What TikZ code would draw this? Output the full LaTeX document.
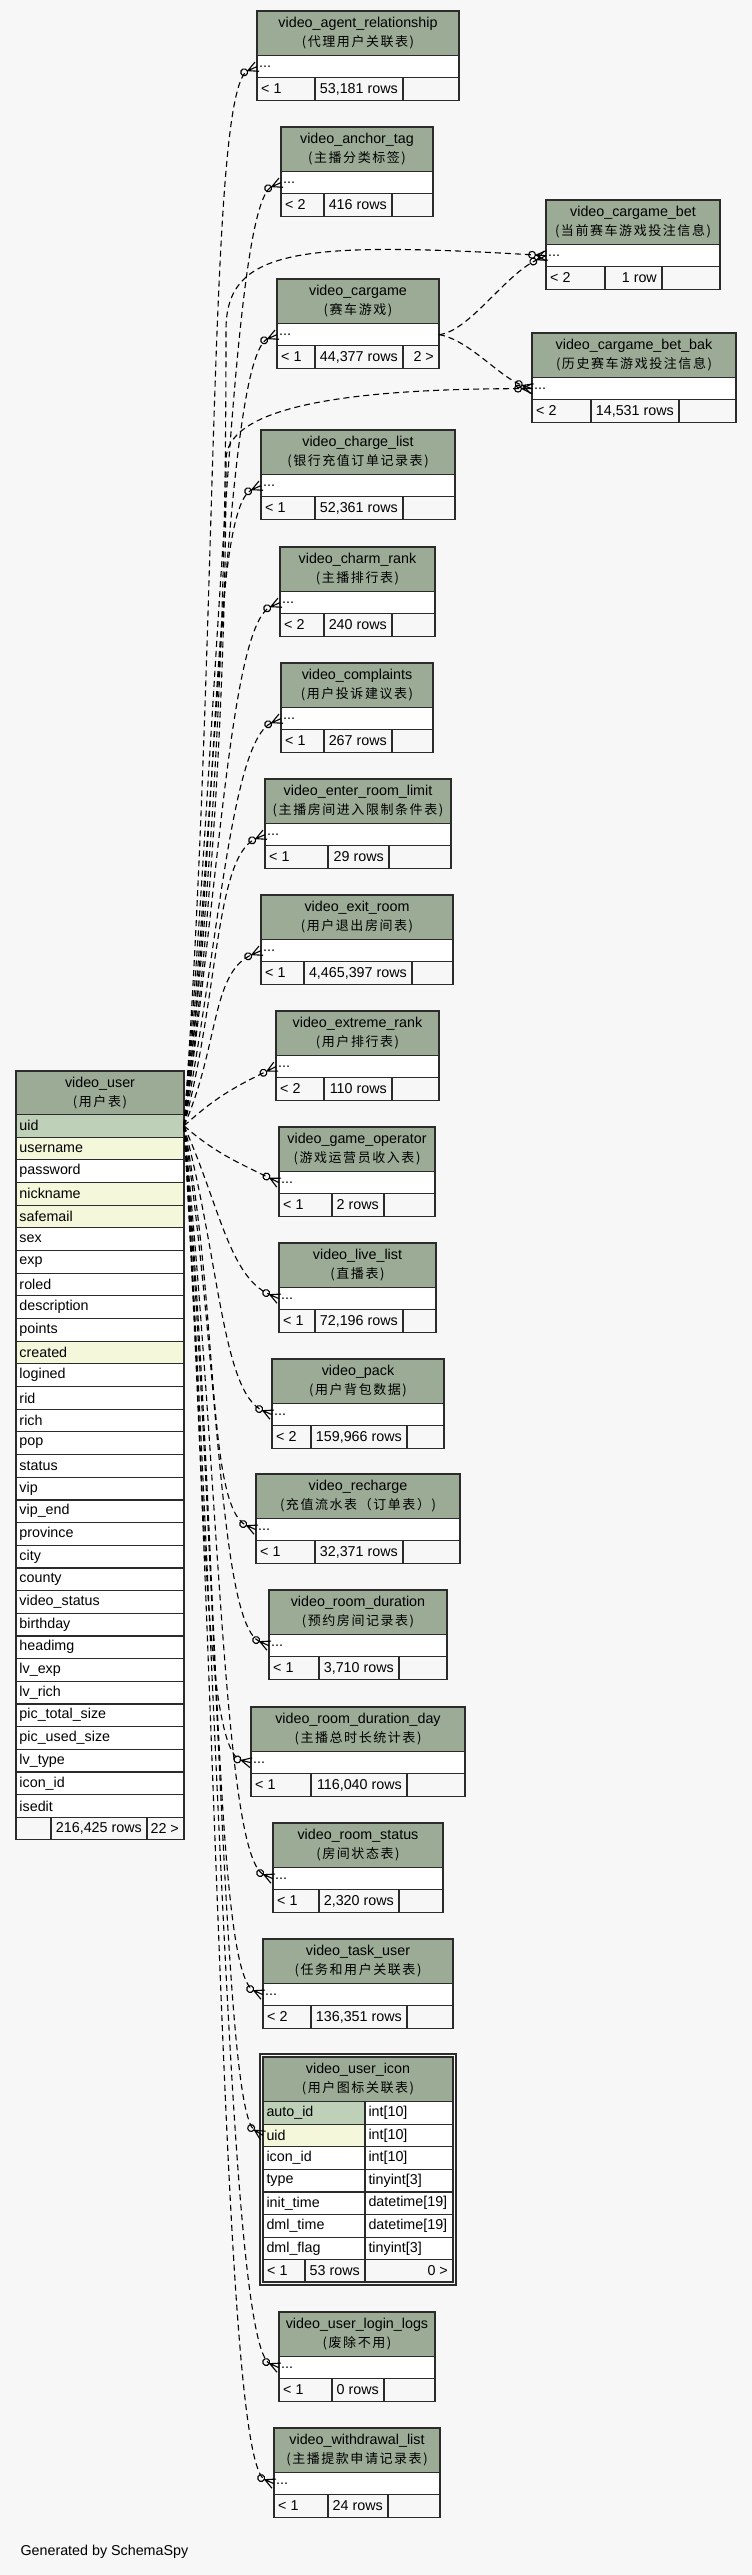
\documentclass[tikz,border=0pt]{standalone}
\usepackage{fontspec}
\setmainfont{Liberation Sans}
\newfontfamily\cmtfont[LetterSpace=12]{Noto Sans CJK SC}
\usetikzlibrary{positioning,arrows.meta}

\definecolor{bgclr}{HTML}{F7F7F7}
\definecolor{hdrclr}{HTML}{9BAB96}
\definecolor{pkclr}{HTML}{BED1B8}
\definecolor{idxclr}{HTML}{F4F7DA}
\definecolor{footclr}{HTML}{F7F7F7}
\definecolor{lineclr}{HTML}{2B2B2B}

\newcommand\rowfont{\fontsize{14.3}{18.5}\selectfont}
\newcommand\cmt[1]{{\cmtfont\fontsize{13}{18.5}\selectfont(#1)}}

% crow's foot tip
\pgfdeclarearrow{
  name = Crow,
  parameters = {\the\pgfarrowlength,\the\pgfarrowwidth},
  setup code = {
    \pgfarrowssettipend{0pt}
    \pgfarrowssetbackend{-\pgfarrowlength}
    \pgfarrowssetlineend{-\pgfarrowlength}
    \pgfarrowssetvisualbackend{-\pgfarrowlength}
    \pgfarrowshullpoint{0pt}{.5\pgfarrowwidth}
    \pgfarrowshullpoint{0pt}{-.5\pgfarrowwidth}
    \pgfarrowshullpoint{-\pgfarrowlength}{0pt}
    \pgfarrowssavethe\pgfarrowlength
    \pgfarrowssavethe\pgfarrowwidth
  },
  drawing code = {
    \pgfsetdash{}{0pt}
    \pgfpathmoveto{\pgfpoint{0pt}{.5\pgfarrowwidth}}
    \pgfpathlineto{\pgfpoint{-\pgfarrowlength}{0pt}}
    \pgfpathlineto{\pgfpoint{0pt}{-.5\pgfarrowwidth}}
    \pgfpathmoveto{\pgfpoint{-\pgfarrowlength}{0pt}}
    \pgfpathlineto{\pgfpoint{0pt}{0pt}}
    \pgfusepathqstroke
  },
  defaults = {length=10pt, width=10pt}
}

\tikzset{
  tbl/.style={draw=lineclr, line width=1.2pt, outer sep=0pt, inner sep=0pt, anchor=north west},
  hdr/.style={tbl, fill=hdrclr, minimum height=44.5pt, align=center},
  dots/.style={tbl, fill=white, minimum height=22.3pt},
  foot/.style={tbl, fill=footclr, minimum height=22.3pt},
  row/.style={tbl, minimum height=22.67pt, inner xsep=3.5pt, align=left},
  cell/.style={draw=lineclr, line width=1.2pt},
  txt/.style={inner sep=0pt},
  rel/.style={draw=black, line width=1.1pt, dash pattern=on 6pt off 4pt,
    -{Circle[open,length=8pt] Crow[length=10pt,width=10pt]}}
}

\begin{document}
\begin{tikzpicture}[x=1pt,y=-1pt,font=\rowfont]
    \fill[bgclr] (0,0) rectangle (752,2575);
    \useasboundingbox (0,0) rectangle (752,2575);
    % video_user
    \node[hdr, minimum width=168pt] (user) at (16,1071) {video\_user\\\cmt{用户表}};
    \foreach \nm/\col/\clr [count=\i from 0] in {uid/uid/pkclr, username/username/idxclr,
        password/password/white, nickname/nickname/idxclr, safemail/safemail/idxclr,
        sex/sex/white, exp/exp/white, roled/roled/white, description/description/white,
        points/points/white, created/created/idxclr, logined/logined/white, rid/rid/white,
        rich/rich/white, pop/pop/white, status/status/white, vip/vip/white,
        vipend/vip\_end/white, province/province/white, city/city/white, county/county/white,
        videostatus/video\_status/white, birthday/birthday/white, headimg/headimg/white,
        lvexp/lv\_exp/white, lvrich/lv\_rich/white, pictotal/pic\_total\_size/white,
        picused/pic\_used\_size/white, lvtype/lv\_type/white, iconid/icon\_id/white,
        isedit/isedit/white}
        \node[row, fill=\clr, text width=161pt] (user-\nm) at (16,{1114.5+\i*22.67}) {\col};
    \node[foot, minimum width=168pt] (user-foot) at (16,1817.3) {};
    \draw[cell] ([xshift=35pt]user-foot.north west) -- ([xshift=35pt]user-foot.south west);
    \draw[cell] ([xshift=131pt]user-foot.north west) -- ([xshift=131pt]user-foot.south west);
    \node[txt, anchor=east] (user-rows) at ([xshift=126pt]user-foot.west) {216,425 rows};
    \node[txt, anchor=east] (user-rgt) at ([xshift=-5pt]user-foot.east) {22 >};
    % tables with hidden columns
    \foreach \id/\xa/\ya/\xb/\da/\db/\tname/\tcmt/\lft/\rows/\rgt in {
        agent/257/11/459/315/403/agent\_relationship/代理用户关联表/{< 1}/{53,181 rows}/{},
        anchor/281/127/433/324/392/anchor\_tag/主播分类标签/{< 2}/{416 rows}/{},
        bet/546/200/720/605/662/cargame\_bet/当前赛车游戏投注信息/{< 2}/{1 row}/{},
        cargame/277/279/439/315/403/cargame/赛车游戏/{< 1}/{44,377 rows}/{2 >},
        betbak/532/333/736/591/679/cargame\_bet\_bak/历史赛车游戏投注信息/{< 2}/{14,531 rows}/{},
        charge/261/430/455/315/403/charge\_list/银行充值订单记录表/{< 1}/{52,361 rows}/{},
        charm/280/547/435/324/392/charm\_rank/主播排行表/{< 2}/{240 rows}/{},
        complaints/281/663/433/324/392/complaints/用户投诉建议表/{< 1}/{267 rows}/{},
        enter/265/779/451/328/389/enter\_room\_limit/主播房间进入限制条件表/{< 1}/{29 rows}/{},
        exit/261/895/453/304/412/exit\_room/用户退出房间表/{< 1}/{4,465,397 rows}/{},
        extreme/276/1011/439/324/392/extreme\_rank/用户排行表/{< 2}/{110 rows}/{},
        operator/279/1127/435/332/384/game\_operator/游戏运营员收入表/{< 1}/{2 rows}/{},
        live/279/1243/436/315/403/live\_list/直播表/{< 1}/{72,196 rows}/{},
        pack/272/1359/444/311/407/pack/用户背包数据/{< 2}/{159,966 rows}/{},
        recharge/256/1474/460/315/403/recharge/充值流水表（订单表）/{< 1}/{32,371 rows}/{},
        duration/269/1590/447/319/399/room\_duration/预约房间记录表/{< 1}/{3,710 rows}/{},
        durday/251/1707/465/311/407/room\_duration\_day/主播总时长统计表/{< 1}/{116,040 rows}/{},
        status/273/1823/443/319/399/room\_status/房间状态表/{< 1}/{2,320 rows}/{},
        task/263/1939/453/311/407/task\_user/任务和用户关联表/{< 2}/{136,351 rows}/{},
        login/279/2312/435/332/384/user\_login\_logs/废除不用/{< 1}/{0 rows}/{},
        withdraw/274/2428/440/328/388/withdrawal\_list/主播提款申请记录表/{< 1}/{24 rows}/{}}{
        \pgfmathsetmacro\tw{\xb-\xa}
        \pgfmathsetmacro\wa{\da-\xa}
        \pgfmathsetmacro\wb{\db-\xa}
        \pgfmathsetmacro\wr{\db-\xa-5}
        \node[hdr, minimum width=\tw pt] (\id) at (\xa,\ya) {video\_\tname\\\cmt{\tcmt}};
        \node[dots, minimum width=\tw pt, below=0pt of \id] (\id-dots) {};
        \node[foot, minimum width=\tw pt, below=0pt of \id-dots] (\id-foot) {};
        \draw[cell] ([xshift=\wa pt]\id-foot.north west) -- ([xshift=\wa pt]\id-foot.south west);
        \draw[cell] ([xshift=\wb pt]\id-foot.north west) -- ([xshift=\wb pt]\id-foot.south west);
        \node[txt, anchor=west] (\id-more) at ([xshift=2pt]\id-dots.west) {...};
        \node[txt, anchor=west] (\id-lft) at ([xshift=4pt]\id-foot.west) {\lft};
        \node[txt, anchor=east] (\id-rows) at ([xshift=\wr pt]\id-foot.west) {\rows};
        \node[txt, anchor=east] (\id-rgt) at ([xshift=-5pt]\id-foot.east) {\rgt};
    }
    % video_user_icon
    \node[hdr, minimum width=190pt] (icon) at (263,2057) {video\_user\_icon\\\cmt{用户图标关联表}};
    \foreach \nm/\col/\typ/\clr [count=\i from 0] in {autoid/auto\_id/int[10]/pkclr,
        uid/uid/int[10]/idxclr, iconid/icon\_id/int[10]/white, type/type/tinyint[3]/white,
        inittime/init\_time/datetime[19]/white, dmltime/dml\_time/datetime[19]/white,
        dmlflag/dml\_flag/tinyint[3]/white}{
        \node[row, fill=\clr, text width=95pt] (icon-\nm) at (263,{2101.5+\i*22.6}) {\col};
        \node[row, fill=white, text width=81pt] (icon-\nm-type) at (365,{2101.5+\i*22.6}) {\typ};
    }
    \node[foot, minimum width=190pt] (icon-foot) at (263,2259.7) {};
    \draw[cell] ([xshift=42pt]icon-foot.north west) -- ([xshift=42pt]icon-foot.south west);
    \draw[cell] ([xshift=102pt]icon-foot.north west) -- ([xshift=102pt]icon-foot.south west);
    \node[txt, anchor=west] (icon-lft) at ([xshift=4pt]icon-foot.west) {< 1};
    \node[txt, anchor=east] (icon-rows) at ([xshift=97pt]icon-foot.west) {53 rows};
    \node[txt, anchor=east] (icon-rgt) at ([xshift=-5pt]icon-foot.east) {0 >};
    \draw[lineclr, line width=2.5pt] ([shift={(-3,-3)}]icon.north west) rectangle ([shift={(3,3)}]icon-foot.south east);
    % bends of the long curves to the bet tables
    \coordinate (bet-bend) at (226,330);
    \coordinate (betbak-bend) at (226,460);
    % relationships from video_user.uid
    \draw[rel] (user-uid.east) .. controls +(35,-477) and +(-50,22) .. (agent-dots.west);
    \draw[rel] (user-uid.east) .. controls +(35,-424) and +(-50,22) .. (anchor-dots.west);
    \draw[rel] (user-uid.east) .. controls +(35,-300) and +(0,250) .. (bet-bend)
        .. controls +(0,-80) and +(-250,-15) .. (bet-dots.west);
    \draw[rel] (user-uid.east) .. controls +(35,-356) and +(-50,22) .. (cargame-dots.west);
    \draw[rel] (user-uid.east) .. controls +(35,-250) and +(0,150) .. (betbak-bend)
        .. controls +(0,-50) and +(-200,0) .. (betbak-dots.west);
    \draw[rel] (user-uid.east) .. controls +(35,-288) and +(-50,22) .. (charge-dots.west);
    \draw[rel] (user-uid.east) .. controls +(35,-235) and +(-50,22) .. (charm-dots.west);
    \draw[rel] (user-uid.east) .. controls +(35,-183) and +(-50,22) .. (complaints-dots.west);
    \draw[rel] (user-uid.east) .. controls +(35,-131) and +(-50,22) .. (enter-dots.west);
    \draw[rel] (user-uid.east) .. controls +(35,-79) and +(-50,22) .. (exit-dots.west);
    \draw[rel] (user-uid.east) .. controls +(30,-27) and +(-45,22) .. (extreme-dots.west);
    \draw[rel] (user-uid.east) .. controls +(30,26) and +(-45,-22) .. (operator-dots.west);
    \draw[rel] (user-uid.east) .. controls +(35,78) and +(-50,-22) .. (live-dots.west);
    \draw[rel] (user-uid.east) .. controls +(35,130) and +(-50,-22) .. (pack-dots.west);
    \draw[rel] (user-uid.east) .. controls +(35,182) and +(-50,-22) .. (recharge-dots.west);
    \draw[rel] (user-uid.east) .. controls +(35,234) and +(-50,-22) .. (duration-dots.west);
    \draw[rel] (user-uid.east) .. controls +(20,287) and +(-50,-12) .. (durday-dots.west);
    \draw[rel] (user-uid.east) .. controls +(35,339) and +(-50,-22) .. (status-dots.west);
    \draw[rel] (user-uid.east) .. controls +(35,391) and +(-50,-22) .. (task-dots.west);
    \draw[rel] (user-uid.east) .. controls +(35,454) and +(-40,-25) .. (icon-uid.west);
    \draw[rel] (user-uid.east) .. controls +(35,559) and +(-50,-22) .. (login-dots.west);
    \draw[rel] (user-uid.east) .. controls +(35,611) and +(-50,-22) .. (withdraw-dots.west);
    % relationships from video_cargame
    \draw[rel] (cargame-dots.east) .. controls +(30,-3) and +(-41,19) .. (bet-dots.west);
    \draw[rel] (cargame-dots.east) .. controls +(30,5) and +(-32,-11) .. (betbak-dots.west);
    % credit
    \node[anchor=west] (credit) at (17,2552) {Generated by SchemaSpy};
\end{tikzpicture}
\end{document}
